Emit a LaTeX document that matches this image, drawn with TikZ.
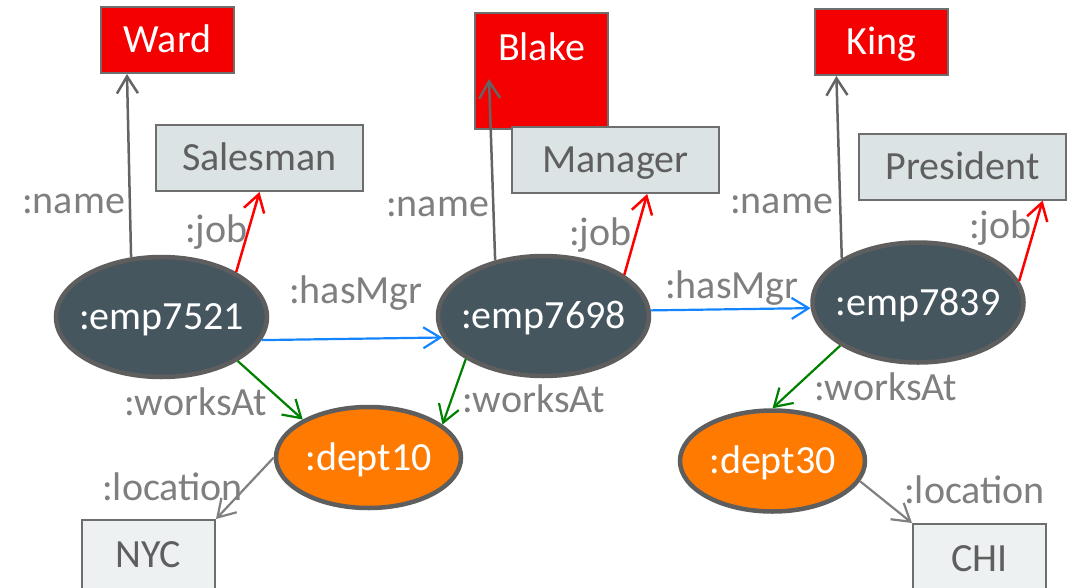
\documentclass[tikz,border=0pt]{standalone}
\usepackage{fontspec}
\setmainfont{Carlito}
\usetikzlibrary{shapes.geometric,arrows.meta}

\definecolor{slate}{HTML}{46565F}
\definecolor{ringgray}{HTML}{5E5E5E}
\definecolor{deptorange}{HTML}{FF7A00}
\definecolor{namered}{HTML}{F50000}
\definecolor{jobfill}{HTML}{DCE3E5}
\definecolor{cityfill}{HTML}{EEF1F2}
\definecolor{boxline}{HTML}{6E6E6E}
\definecolor{boxtext}{HTML}{5F5F5F}
\definecolor{lblgray}{HTML}{7F7F7F}
\definecolor{nameline}{HTML}{646464}
\definecolor{jobred}{HTML}{FF0000}
\definecolor{mgrblue}{HTML}{1485FF}
\definecolor{worksgreen}{HTML}{008000}
\definecolor{locgray}{HTML}{808080}

\begin{document}
\begin{tikzpicture}[x=1pt,y=-1pt,
  font=\fontsize{40}{42}\selectfont,
  valbox/.style={rectangle, draw=boxline, line width=2pt, inner sep=0pt,
    minimum width=133pt, minimum height=66pt, text height=25.8pt, text depth=0pt},
  namebox/.style={valbox, fill=namered, text=white},
  jobbox/.style={valbox, fill=jobfill, text=boxtext, minimum width=207pt},
  citybox/.style={valbox, fill=cityfill, text=boxtext, minimum height=70pt},
  resnode/.style={ellipse, draw=ringgray, line width=4.5pt,
    inner xsep=-30pt, inner ysep=0pt,
    fill=slate, text=white, minimum width=211pt, minimum height=120pt,
    text height=25.8pt, text depth=0pt},
  deptnode/.style={resnode, fill=deptorange, minimum width=185pt, minimum height=101pt},
  lbl/.style={text=lblgray, anchor=base west, inner sep=0pt},
  arr/.style={-{Straight Barb[length=17pt,width=21pt]}},
  nameedge/.style={arr, draw=nameline, line width=2.5pt},
  jobedge/.style={arr, draw=jobred, line width=2.5pt},
  mgredge/.style={arr, draw=mgrblue, line width=2.2pt},
  worksedge/.style={arr, draw=worksgreen, line width=2.2pt},
  locedge/.style={arr, draw=locgray, line width=2.2pt}]

\useasboundingbox (0,0) rectangle (1068,587);

% literal values: names
\node[namebox] (ward) at (167.5,40) {Ward};
\node[namebox, text height=47pt, text depth=69pt, minimum height=0pt] (blake) at (541.5,71) {Blake};
\node[namebox] (king) at (881.5,42) {King};

% literal values: jobs
\node[jobbox] (salesman) at (259.5,158) {Salesman};
\node[jobbox] (manager) at (615.5,160) {Manager};
\node[jobbox] (president) at (962.5,166.5) {President};

% literal values: cities
\node[citybox] (nyc) at (148.5,555) {NYC};
\node[citybox] (chi) at (979.5,559) {CHI};

% resources
\node[resnode] (e1) at (161.5,317) {:emp7521};
\node[resnode] (e2) at (543.5,316) {:emp7698};
\node[resnode] (e3) at (918,302.5) {:emp7839};
\node[deptnode] (d1) at (368.5,457.5) {:dept10};
\node[deptnode] (d2) at (772.5,461) {:dept30};

% :name
\draw[nameedge] (e1.117) -- (ward.220);
\draw[nameedge] (e2.131) -- ([xshift=-52.5pt,yshift=-8pt]blake.center);
\draw[nameedge] (e3.150) -- (king.217);

% :job
\draw[jobedge] (e1.31.7) -- (salesman.south);
\draw[jobedge] (e2.27.6) -- (manager.-47);
\draw[jobedge] (e3.12.7) -- (president.-23.5);

% :hasMgr
\draw[mgredge] (e1.347.8) -- (e2.192.8);
\draw[mgredge] (e2.3.7) -- (e3.183.6);

% :worksAt
\draw[worksedge] (e1.330.6) -- (d1.150.6);
\draw[worksedge] (e2.209.1) -- (d1.24.8);
\draw[worksedge] (e3.209.5) -- (d2.north);

% :location
\draw[locedge] (d1.west) -- (nyc.north east);
\draw[locedge] (d2.-13.8) -- (chi.north west);

% property labels
\node[lbl] (l1) at (22,213) {:name};
\node[lbl] (l2) at (185,242) {:job};
\node[lbl] (l3) at (289,303) {:hasMgr};
\node[lbl] (l4) at (124,415) {:worksAt};
\node[lbl] (l5) at (102,500) {:location};
\node[lbl] (l6) at (386,216) {:name};
\node[lbl] (l7) at (569,245) {:job};
\node[lbl] (l8) at (665,298) {:hasMgr};
\node[lbl] (l9) at (462,412) {:worksAt};
\node[lbl] (l10) at (730,213) {:name};
\node[lbl] (l11) at (969,238) {:job};
\node[lbl] (l12) at (814,400) {:worksAt};
\node[lbl] (l13) at (904,503) {:location};
\end{tikzpicture}
\end{document}
